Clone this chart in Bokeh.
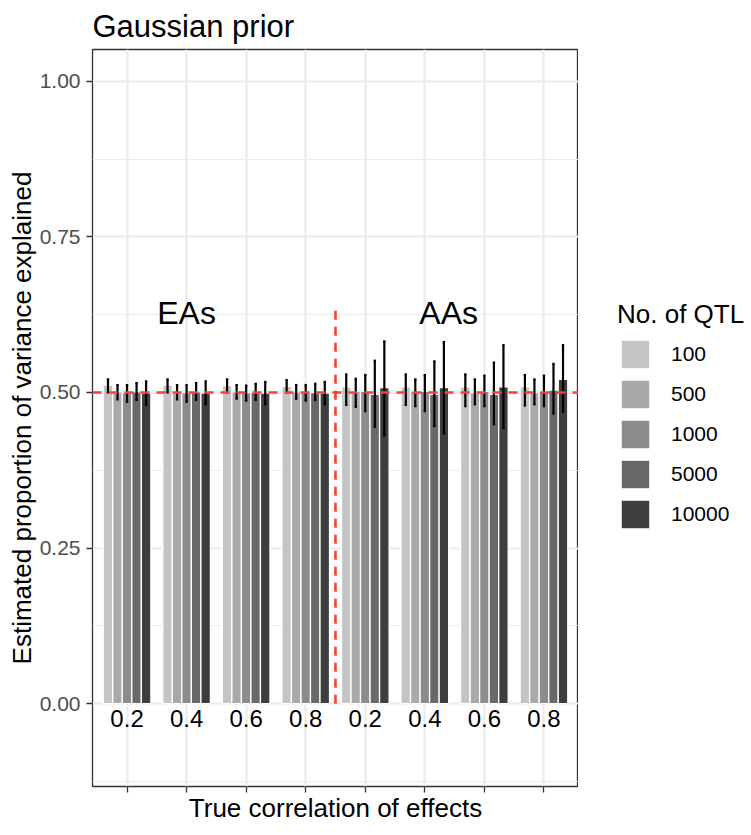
from bokeh.plotting import figure
from bokeh.layouts import row
from bokeh.models import (Span, Legend, LegendItem, FixedTicker, NumeralTickFormatter,
                          CustomJSTickFormatter, Range1d, ColumnDataSource)
from bokeh.core.properties import value
from bokeh.embed import file_html
from bokeh.resources import INLINE

# ---------------- data ----------------
corr_labels = ["0.2", "0.4", "0.6", "0.8", "0.2", "0.4", "0.6", "0.8"]
groups = ["EAs", "AAs"]
qtl_levels = ["100", "500", "1000", "5000", "10000"]
qtl_colors = ["#C4C4C4", "#A9A9A9", "#8C8C8C", "#696969", "#3E3E3E"]

# estimates (EA 0.2..0.8, AA 0.2..0.8)
q100_mean = [0.512, 0.512, 0.511, 0.510, 0.509, 0.509, 0.509, 0.509]
q100_lo = [0.500, 0.500, 0.500, 0.500, 0.480, 0.480, 0.478, 0.479]
q100_hi = [0.521, 0.521, 0.521, 0.520, 0.529, 0.529, 0.529, 0.528]

q500_mean = [0.501, 0.501, 0.501, 0.501, 0.502, 0.502, 0.500, 0.500]
q500_lo = [0.489, 0.489, 0.490, 0.490, 0.477, 0.478, 0.481, 0.481]
q500_hi = [0.512, 0.512, 0.512, 0.512, 0.522, 0.521, 0.521, 0.521]

q1000_mean = [0.500, 0.500, 0.500, 0.500, 0.502, 0.502, 0.502, 0.502]
q1000_lo = [0.485, 0.485, 0.487, 0.487, 0.470, 0.470, 0.478, 0.478]
q1000_hi = [0.512, 0.512, 0.511, 0.512, 0.528, 0.528, 0.527, 0.527]

q5000_mean = [0.501, 0.501, 0.500, 0.500, 0.497, 0.497, 0.497, 0.504]
q5000_lo = [0.488, 0.488, 0.488, 0.488, 0.445, 0.446, 0.449, 0.466]
q5000_hi = [0.515, 0.515, 0.514, 0.514, 0.551, 0.550, 0.548, 0.546]

q10000_mean = [0.499, 0.499, 0.499, 0.499, 0.508, 0.508, 0.509, 0.521]
q10000_lo = [0.480, 0.481, 0.481, 0.481, 0.431, 0.434, 0.443, 0.469]
q10000_hi = [0.518, 0.518, 0.517, 0.517, 0.582, 0.581, 0.576, 0.576]

means = [q100_mean, q500_mean, q1000_mean, q5000_mean, q10000_mean]
lows = [q100_lo, q500_lo, q1000_lo, q5000_lo, q10000_lo]
highs = [q100_hi, q500_hi, q1000_hi, q5000_hi, q10000_hi]

true_value = 0.5
divider_top = 0.64
group_label_x = [2.0, 6.4]
group_label_y = 0.627

FONT = "Liberation Sans"
RED = "#F4432F"

x_pos = list(range(1, len(corr_labels) + 1))
bar_w = 0.16

p = figure(width=578, height=835, output_backend="svg", toolbar_location=None,
           x_range=Range1d(0.42, 8.58), y_range=Range1d(-0.133, 1.051),
           frame_width=486, frame_height=737,
           min_border_left=92, min_border_right=0, min_border_top=49, min_border_bottom=49,
           background_fill_color="white", border_fill_color="white")

p.title.text = "Gaussian prior"
p.title.text_font = FONT
p.title.text_font_size = "31px"
p.title.text_font_style = "normal"
p.title.text_color = "black"
p.title.offset = 0
p.title.standoff = 12

p.outline_line_color = "#333333"
p.outline_line_width = 1.3

# grid
p.xgrid.ticker = FixedTicker(ticks=x_pos)
p.ygrid.ticker = FixedTicker(ticks=[0, 0.25, 0.5, 0.75, 1.0],
                             minor_ticks=[-0.125, 0.125, 0.375, 0.625, 0.875])
p.xgrid.grid_line_color = "#EBEBEB"
p.ygrid.grid_line_color = "#EBEBEB"
p.xgrid.grid_line_width = 2.2
p.ygrid.grid_line_width = 2.2
p.ygrid.minor_grid_line_color = "#EBEBEB"
p.ygrid.minor_grid_line_width = 1.1

# axes
p.yaxis.ticker = FixedTicker(ticks=[0, 0.25, 0.5, 0.75, 1.0])
p.yaxis.formatter = NumeralTickFormatter(format="0.00")
p.xaxis.ticker = FixedTicker(ticks=x_pos)
p.xaxis.formatter = CustomJSTickFormatter(code="return ''")
for ax in (p.xaxis, p.yaxis):
    ax.axis_line_color = None
    ax.major_tick_line_color = "#333333"
    ax.major_tick_line_width = 1.3
    ax.major_tick_out = 6
    ax.major_tick_in = 0
    ax.minor_tick_line_color = None
    ax.major_label_text_font = FONT
    ax.major_label_text_font_size = "21px"
    ax.major_label_text_color = "#4D4D4D"
    ax.axis_label_text_font = FONT
    ax.axis_label_text_font_size = "26px"
    ax.axis_label_text_font_style = "normal"
    ax.axis_label_text_color = "black"
p.yaxis.major_label_standoff = 6
p.yaxis.axis_label = "Estimated proportion of variance explained"
p.yaxis.axis_label_standoff = 0
p.xaxis.axis_label = "True correlation of effects"
p.xaxis.axis_label_standoff = 0
p.xaxis.major_label_standoff = 0

# bars
for k, lev in enumerate(qtl_levels):
    xs = [x + (k - 2) * bar_w for x in x_pos]
    src = ColumnDataSource(dict(x=xs, top=means[k], lo=lows[k], hi=highs[k]))
    p.vbar(x="x", top="top", bottom=0, width=bar_w, source=src,
           fill_color=qtl_colors[k], line_color="white", line_width=1.3)

# reference lines
p.add_layout(Span(location=true_value, dimension="width", line_color=RED,
                  line_width=2.6, line_dash="9 7"))
p.segment(x0=[4.5], y0=[0], x1=[4.5], y1=[divider_top], line_color=RED,
          line_width=2.6, line_dash="9 7")

# error bars
for k in range(len(qtl_levels)):
    xs = [x + (k - 2) * bar_w for x in x_pos]
    p.segment(x0=xs, y0=lows[k], x1=xs, y1=highs[k], line_color="black", line_width=2.2)
    cap = 0.02
    p.segment(x0=[x - cap for x in xs], y0=highs[k], x1=[x + cap for x in xs], y1=highs[k],
              line_color="black", line_width=2.2)
    p.segment(x0=[x - cap for x in xs], y0=lows[k], x1=[x + cap for x in xs], y1=lows[k],
              line_color="black", line_width=2.2)

# in-panel labels
p.text(x=x_pos, y=[-0.024] * len(x_pos), text=corr_labels, text_font=value(FONT),
       text_font_size="24px", text_align="center", text_baseline="middle", text_color="black")
p.text(x=group_label_x, y=[group_label_y] * 2, text=groups, text_font=value(FONT),
       text_font_size="32px", text_align="center", text_baseline="middle", text_color="black")

# ---------------- legend panel (separate figure to the right) ----------------
lg = figure(width=173, height=835, output_backend="svg", toolbar_location=None,
            x_range=Range1d(0, 1), y_range=Range1d(0, 1),
            min_border=0, min_border_left=0, min_border_right=0,
            min_border_top=0, min_border_bottom=0,
            background_fill_color="white", border_fill_color="white")
lg.axis.visible = False
lg.grid.visible = False
lg.outline_line_color = None

legend_items = []
for k, lev in enumerate(qtl_levels):
    # keys only: one bar placed outside the visible range of this panel
    r = lg.vbar(x=[-5], top=[-5], bottom=-6, width=0.1,
                fill_color=qtl_colors[k], line_color="white", line_width=1.3)
    legend_items.append(LegendItem(label=lev, renderers=[r]))

legend = Legend(items=legend_items, title="No. of QTL", location=(39, 254),
                orientation="vertical")
legend.title_text_font = FONT
legend.title_text_font_size = "26px"
legend.title_text_font_style = "normal"
legend.title_text_color = "black"
legend.title_standoff = 6
legend.label_text_font = FONT
legend.label_text_font_size = "21px"
legend.label_text_color = "black"
legend.glyph_width = 36
legend.glyph_height = 36
legend.label_height = 36
legend.label_standoff = 18
legend.spacing = 4
legend.padding = 0
legend.margin = 0
legend.border_line_color = None
legend.background_fill_color = None
legend.background_fill_alpha = 0
lg.add_layout(legend, "center")

layout = row(p, lg)
open("out.html", "w").write(file_html(layout, INLINE))
